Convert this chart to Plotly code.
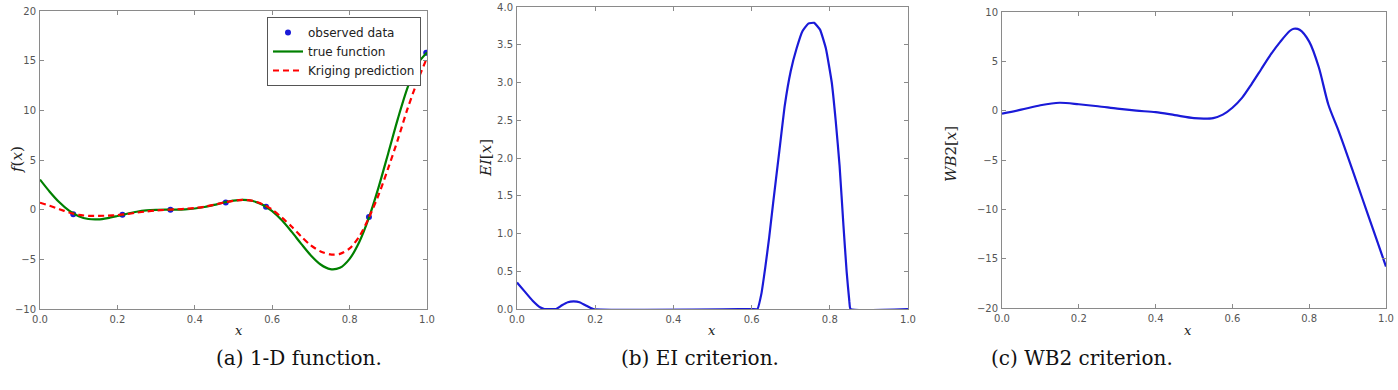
import plotly.graph_objects as go

# ---------------- data ----------------
x_grid = [0.0, 0.025, 0.05, 0.075, 0.1, 0.125, 0.15, 0.175, 0.2, 0.225, 0.25, 0.275,
          0.3, 0.325, 0.35, 0.375, 0.4, 0.425, 0.45, 0.475, 0.5, 0.525, 0.55, 0.575,
          0.6, 0.625, 0.65, 0.675, 0.7, 0.725, 0.75, 0.775, 0.8, 0.825, 0.85, 0.875,
          0.9, 0.925, 0.95, 0.975, 1.0]
true_function = [3.03, 1.81, 0.74, -0.10, -0.66, -0.94, -0.98, -0.85, -0.64, -0.41, -0.21, -0.08,
                 -0.02, 0.0, 0.0, 0.03, 0.12, 0.27, 0.48, 0.72, 0.91, 0.99, 0.87, 0.50,
                 -0.15, -1.07, -2.21, -3.44, -4.61, -5.52, -5.99, -5.85, -4.95, -3.25, -0.80, 2.27,
                 5.71, 9.19, 12.30, 14.65, 15.83]
kriging_prediction = [0.70, 0.40, 0.05, -0.28, -0.52, -0.62, -0.63, -0.60, -0.54, -0.44, -0.30, -0.18,
                      -0.08, -0.02, 0.03, 0.08, 0.17, 0.30, 0.50, 0.72, 0.90, 0.98, 0.88, 0.55,
                      0.0, -0.80, -1.70, -2.70, -3.60, -4.20, -4.50, -4.45, -3.90, -2.70, -0.80, 1.50,
                      4.20, 7.10, 10.20, 12.90, 15.30]
obs_x = [0.086, 0.213, 0.337, 0.480, 0.584, 0.850, 0.998]
obs_y = [-0.45, -0.52, 0.0, 0.73, 0.30, -0.75, 15.8]

ei_x = [0.0, 0.02, 0.04, 0.06, 0.07, 0.1, 0.115, 0.13, 0.145, 0.16, 0.175, 0.195,
        0.6, 0.615, 0.625, 0.635, 0.645, 0.655, 0.67, 0.685, 0.7, 0.715, 0.73, 0.745,
        0.76, 0.775, 0.79, 0.805, 0.815, 0.825, 0.835, 0.843, 0.85, 0.853, 1.0]
ei_y = [0.35, 0.23, 0.11, 0.02, 0.0, 0.0, 0.05, 0.09, 0.10, 0.09, 0.05, 0.0,
        0.0, 0.0, 0.20, 0.55, 0.95, 1.40, 2.05, 2.70, 3.15, 3.45, 3.68, 3.78,
        3.79, 3.70, 3.45, 3.00, 2.50, 1.90, 1.10, 0.50, 0.10, 0.0, 0.0]

wb2_x = [0.0, 0.05, 0.1, 0.15, 0.2, 0.25, 0.3, 0.35, 0.4, 0.45, 0.5, 0.525, 0.55, 0.575,
         0.6, 0.625, 0.65, 0.675, 0.7, 0.725, 0.75, 0.76, 0.775, 0.8, 0.825, 0.85,
         0.875, 0.9, 0.925, 0.95, 0.975, 1.0]
wb2_y = [-0.3, 0.1, 0.55, 0.8, 0.65, 0.45, 0.2, 0.0, -0.15, -0.45, -0.75, -0.8, -0.75, -0.4,
         0.3, 1.3, 2.7, 4.2, 5.7, 7.0, 8.1, 8.3, 8.2, 7.0, 4.4, 0.6,
         -1.9, -4.6, -7.4, -10.2, -13.0, -15.8]

x_ticks = [0.0, 0.2, 0.4, 0.6, 0.8, 1.0]
captions = ["(a) 1-D function.", "(b) EI criterion.", "(c) WB2 criterion."]
y_labels = ["<i>f</i>(<i>x</i>)", "<i>EI</i>[<i>x</i>]", "<i>WB</i>2[<i>x</i>]"]

# ---------------- layout helpers ----------------
W, H = 1398, 390
def px(x):
    return x / W
def py(y):
    return 1 - y / H

BLUE = "#1a1ad8"
GREEN = "#008000"
RED = "#ff0000"
AXC = "#8a8a8a"
TICKFONT = dict(family="DejaVu Sans", size=10, color="#555555")

fig = go.Figure()

fig.add_trace(go.Scatter(x=obs_x, y=obs_y, mode="markers", name="observed data",
                         marker=dict(color=BLUE, size=6), xaxis="x", yaxis="y"))
fig.add_trace(go.Scatter(x=x_grid, y=true_function, mode="lines", name="true function",
                         line=dict(color=GREEN, width=2.2, shape="spline", smoothing=0.8),
                         xaxis="x", yaxis="y"))
fig.add_trace(go.Scatter(x=x_grid, y=kriging_prediction, mode="lines", name="Kriging prediction",
                         line=dict(color=RED, width=2.2, dash="6px,4px", shape="spline", smoothing=0.8),
                         xaxis="x", yaxis="y"))
fig.add_trace(go.Scatter(x=ei_x, y=ei_y, mode="lines", showlegend=False,
                         line=dict(color=BLUE, width=2.2, shape="spline", smoothing=0.4),
                         xaxis="x2", yaxis="y2"))
fig.add_trace(go.Scatter(x=wb2_x, y=wb2_y, mode="lines", showlegend=False,
                         line=dict(color=BLUE, width=2.2, shape="spline", smoothing=0.8),
                         xaxis="x3", yaxis="y3"))

def xax(dom, anchor):
    return dict(domain=dom, anchor=anchor, range=[0, 1], tickvals=x_ticks, tickformat=".1f",
                showline=True, mirror="ticks", linecolor=AXC, linewidth=1, ticks="inside",
                ticklen=4, tickcolor=AXC, showgrid=False, zeroline=False, tickfont=TICKFONT,
                ticklabelstandoff=1, automargin=False)

def yax(dom, anchor, rng, dtick, fmt):
    return dict(domain=dom, anchor=anchor, range=rng, dtick=dtick, tick0=rng[0], tickformat=fmt,
                showline=True, mirror="ticks", linecolor=AXC, linewidth=1, ticks="inside",
                ticklen=4, tickcolor=AXC, showgrid=False, zeroline=False, tickfont=TICKFONT,
                ticklabelstandoff=1, automargin=False)

annotations = []
centers_x = [233, 712, 1194]
ylab_x = [6, 486, 962]
ylab_y = [160, 158, 154]
cap_x = [214, 700, 1175]
for i in range(3):
    annotations.append(dict(x=px(centers_x[i]), y=py(340), xref="paper", yref="paper",
                            text="<i>x</i>", showarrow=False,
                            font=dict(family="DejaVu Serif", size=13, color="#222")))
    annotations.append(dict(x=px(ylab_x[i]), y=py(ylab_y[i]), xref="paper", yref="paper",
                            text=y_labels[i], showarrow=False, textangle=-90,
                            font=dict(family="DejaVu Serif", size=15, color="#222")))
    annotations.append(dict(x=px(cap_x[i]), y=py(372), xref="paper", yref="paper",
                            text=captions[i], showarrow=False,
                            font=dict(family="DejaVu Serif", size=20, color="#111")))

fig.update_layout(
    width=W, height=H,
    margin=dict(l=0, r=0, t=0, b=0, autoexpand=False),
    paper_bgcolor="white", plot_bgcolor="white",
    xaxis=xax([px(40), px(427)], "y"),
    yaxis=yax([py(309), py(11)], "x", [-10, 20], 5, "d"),
    xaxis2=xax([px(517), px(908)], "y2"),
    yaxis2=yax([py(309), py(7)], "x2", [0, 4], 0.5, ".1f"),
    xaxis3=xax([px(1002), px(1386)], "y3"),
    yaxis3=yax([py(308), py(12)], "x3", [-20, 10], 5, "d"),
    legend=dict(x=px(421), y=py(17), xanchor="right", yanchor="top",
                bgcolor="white", bordercolor="#555", borderwidth=1,
                font=dict(family="DejaVu Sans", size=12, color="#222"),
                itemwidth=30, tracegroupgap=0),
    annotations=annotations,
    showlegend=True,
)

fig.write_html("out.html")
